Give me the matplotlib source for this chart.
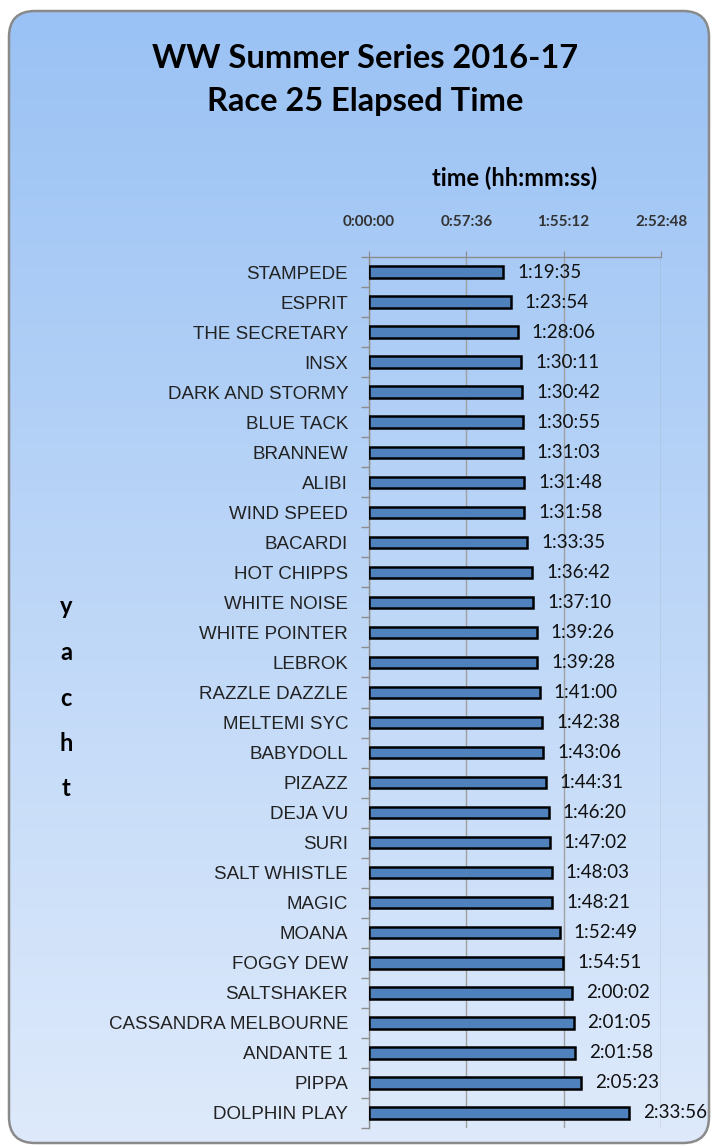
import numpy as np
import matplotlib
matplotlib.use("Agg")
import matplotlib.pyplot as plt
from matplotlib.patches import FancyBboxPatch
from matplotlib.ticker import FixedLocator

yachts = ["STAMPEDE", "ESPRIT", "THE SECRETARY", "INSX", "DARK AND STORMY",
          "BLUE TACK", "BRANNEW", "ALIBI", "WIND SPEED", "BACARDI",
          "HOT CHIPPS", "WHITE NOISE", "WHITE POINTER", "LEBROK", "RAZZLE DAZZLE",
          "MELTEMI SYC", "BABYDOLL", "PIZAZZ", "DEJA VU", "SURI",
          "SALT WHISTLE", "MAGIC", "MOANA", "FOGGY DEW", "SALTSHAKER",
          "CASSANDRA MELBOURNE", "ANDANTE 1", "PIPPA", "DOLPHIN PLAY"]
elapsed = ["1:19:35", "1:23:54", "1:28:06", "1:30:11", "1:30:42",
           "1:30:55", "1:31:03", "1:31:48", "1:31:58", "1:33:35",
           "1:36:42", "1:37:10", "1:39:26", "1:39:28", "1:41:00",
           "1:42:38", "1:43:06", "1:44:31", "1:46:20", "1:47:02",
           "1:48:03", "1:48:21", "1:52:49", "1:54:51", "2:00:02",
           "2:01:05", "2:01:58", "2:05:23", "2:33:56"]
x_ticks = ["0:00:00", "0:57:36", "1:55:12", "2:52:48"]


def to_sec(s):
    h, m, sec = (int(p) for p in s.split(":"))
    return h * 3600 + m * 60 + sec


secs = np.array([to_sec(s) for s in elapsed])
tick_secs = [to_sec(t) for t in x_ticks]

W, H = 712, 1148
fig = plt.figure(figsize=(W / 100, H / 100), dpi=100)
fig.patch.set_facecolor("white")

# background with gradient inside rounded border
bg = fig.add_axes([0, 0, 1, 1], zorder=-1)
bg.set_xlim(0, W)
bg.set_ylim(H, 0)
bg.axis("off")
top_c = np.array([154, 194, 244]) / 255
bot_c = np.array([222, 234, 251]) / 255
t = np.linspace(0, 1, 256)[:, None]
grad = top_c[None, None, :] * (1 - t[:, :, None]) + bot_c[None, None, :] * t[:, :, None]
grad = np.repeat(grad, 2, axis=1)
rect = FancyBboxPatch((9, 11), 700, 1132, boxstyle="round,pad=0,rounding_size=26",
                      facecolor="none", edgecolor="#8a8a8a", linewidth=1.8, zorder=3)
bg.add_patch(rect)
im = bg.imshow(grad, extent=(9, 709, 1143, 11), aspect="auto", zorder=1)
im.set_clip_path(rect)

fam = ["Lato", "DejaVu Sans"]
bg.text(365, 58, "WW Summer Series 2016-17", ha="center", va="center",
        fontsize=23.5, fontweight="bold", family=fam)
bg.text(365, 102, "Race 25 Elapsed Time", ha="center", va="center",
        fontsize=23.5, fontweight="bold", family=fam)
bg.text(515, 178, "time (hh:mm:ss)", ha="center", va="center",
        fontsize=17, fontweight="bold", family=fam)
for i, ch in enumerate("yacht"):
    bg.text(66, 607 + i * 45.5, ch, ha="center", va="center",
            fontsize=17, fontweight="bold", family=fam)

# main axes
left, right, top, bottom = 369, 661, 257, 1128
ax = fig.add_axes([left / W, 1 - bottom / H, (right - left) / W, (bottom - top) / H])
ax.set_facecolor("none")
n = len(yachts)
y = np.arange(n)
ax.barh(y, secs, height=0.38, color="#4f81bd", edgecolor="black", linewidth=1.8, zorder=3)
ax.set_xlim(0, tick_secs[-1])
ax.set_ylim(n - 0.5, -0.5)

ax.xaxis.tick_top()
ax.set_xticks(tick_secs)
ax.set_xticklabels(x_ticks, fontsize=11, fontweight="bold", family=fam, color="#333333")
ax.tick_params(axis="x", which="major", length=4, color="#8c8c8c", pad=16)
ax.grid(axis="x", color="#a0a0a0", linewidth=1, zorder=0)

ax.set_yticks(y)
ax.set_yticklabels(yachts, fontsize=13.5, family=["Liberation Sans", "DejaVu Sans"], color="#222222")
ax.tick_params(axis="y", which="major", length=0, pad=15)
ax.yaxis.set_minor_locator(FixedLocator(np.arange(n + 1) - 0.5))
ax.tick_params(axis="y", which="minor", length=6, color="#8c8c8c", width=1)

for s in ["right", "bottom"]:
    ax.spines[s].set_visible(False)
for s in ["top", "left"]:
    ax.spines[s].set_color("#8c8c8c")
    ax.spines[s].set_linewidth(1)

for yi, v, lab in zip(y, secs, elapsed):
    ax.annotate(lab, (v, yi), xytext=(10, 0), textcoords="offset points",
                ha="left", va="center", fontsize=13.5, family=fam, color="#111111",
                zorder=4, annotation_clip=False)

fig.savefig("out.png", dpi=100)
